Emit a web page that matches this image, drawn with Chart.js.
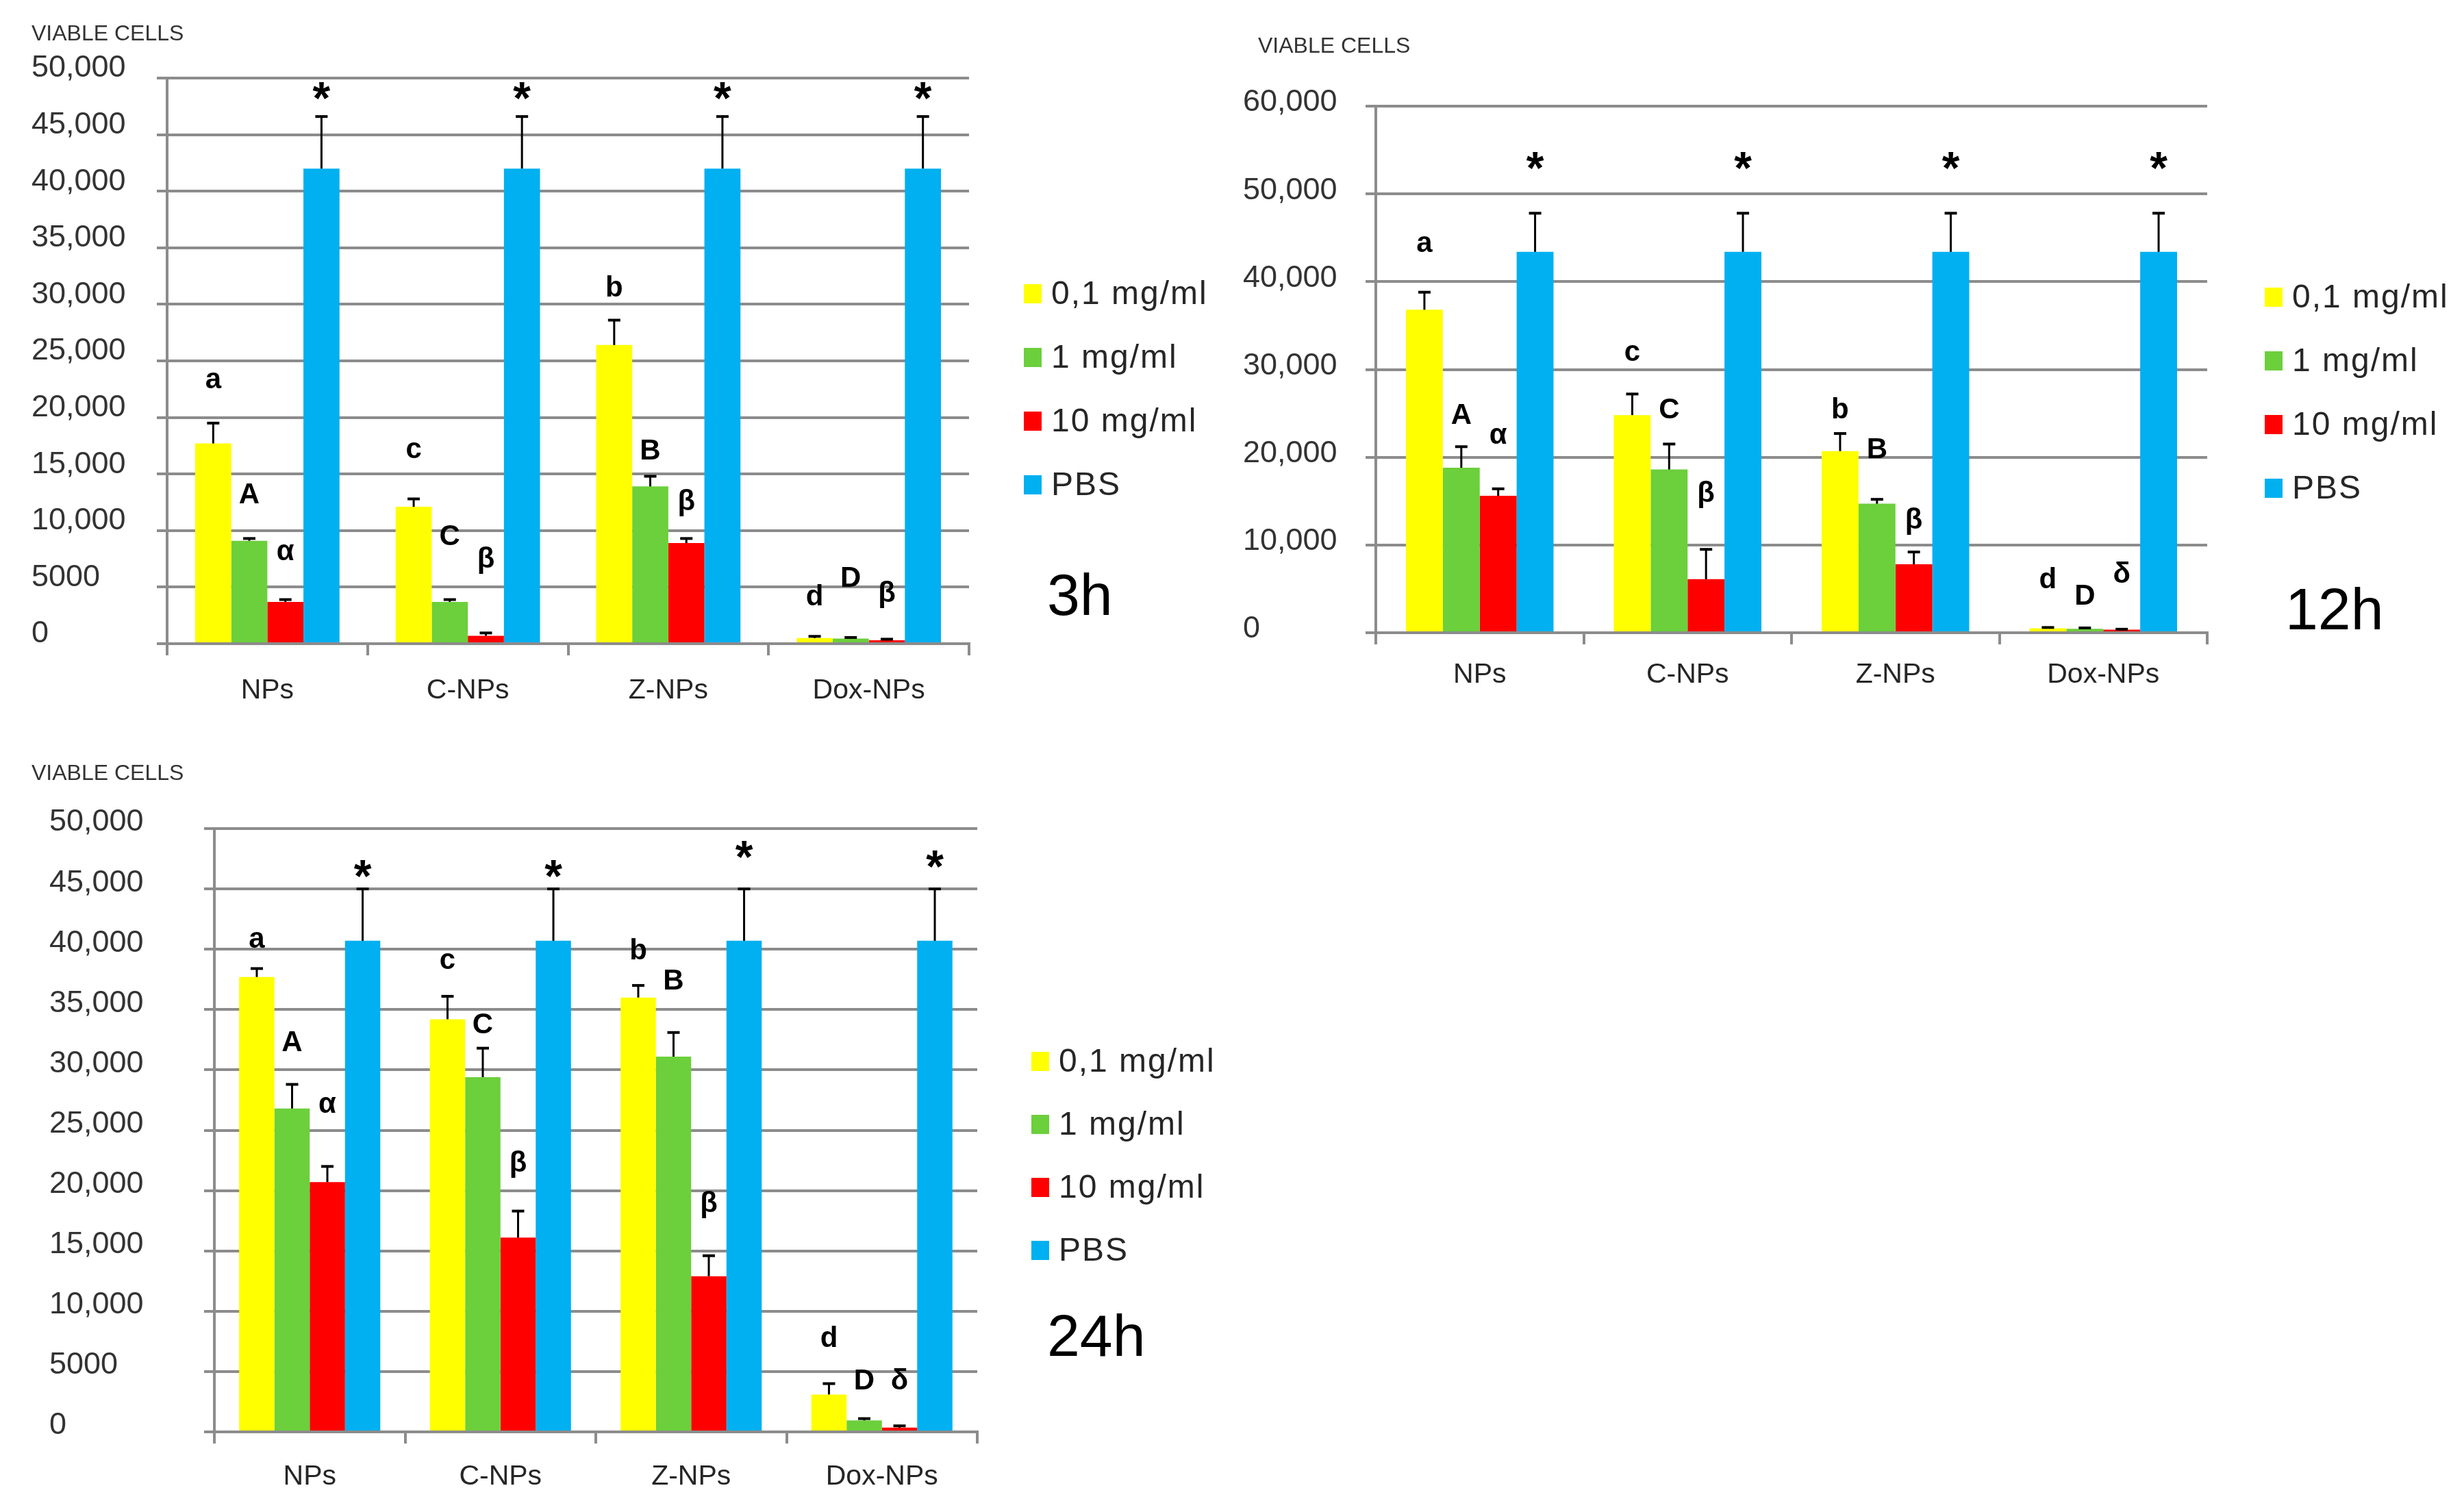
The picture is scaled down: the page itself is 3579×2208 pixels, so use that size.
<!DOCTYPE html>
<html>
<head>
<meta charset="utf-8">
<script src="https://cdn.jsdelivr.net/npm/chart.js@4.4.1/dist/chart.umd.min.js"></script>
<style>
  body { margin: 0; background: #fff; width: 3579px; height: 2208px; position: relative; overflow: hidden; }
  canvas { position: absolute; left: 0; top: 0; }
</style>
</head>
<body>
<canvas id="c3h" width="3579" height="2208"></canvas>
<canvas id="c12h" width="3579" height="2208"></canvas>
<canvas id="c24h" width="3579" height="2208"></canvas>
<script>
// categories and series
var categories = ['NPs', 'C-NPs', 'Z-NPs', 'Dox-NPs'];
var doseLabels = ['0,1 mg/ml', '1 mg/ml', '10 mg/ml', 'PBS'];
var doseColours = ['#ffff00', '#6ccf3c', '#ff0000', '#00b0f0'];

// 3h : viable cells, error (above bar), significance letter and the value where it sits
var v3h_01 = [17700, 12100, 26400, 500];
var v3h_1 = [9100, 3700, 13900, 450];
var v3h_10 = [3700, 700, 8900, 300];
var v3h_pbs = [42000, 42000, 42000, 42000];
var e3h_01 = [1800, 700, 2200, 150];
var e3h_1 = [200, 200, 900, 100];
var e3h_10 = [200, 250, 400, 100];
var e3h_pbs = [4600, 4600, 4600, 4600];
var m3h_01 = ['a', 'c', 'b', 'd'];
var m3h_1 = ['A', 'C', 'B', 'D'];
var m3h_10 = ['α', 'β', 'β', 'β'];
var m3h_pbs = ['*', '*', '*', '*'];
var my3h_01 = [23300, 17100, 31400, 4100];
var my3h_1 = [13100, 9400, 17000, 5700];
var my3h_10 = [8100, 7400, 12500, 4400];
var my3h_pbs = [48900, 48900, 48900, 48900];

// 12h
var v12h_01 = [36800, 24800, 20700, 500];
var v12h_1 = [18800, 18600, 14700, 450];
var v12h_10 = [15600, 6100, 7800, 350];
var v12h_pbs = [43400, 43400, 43400, 43400];
var e12h_01 = [2000, 2400, 2000, 100];
var e12h_1 = [2400, 2900, 500, 100];
var e12h_10 = [800, 3400, 1400, 50];
var e12h_pbs = [4400, 4400, 4400, 4400];
var m12h_01 = ['a', 'c', 'b', 'd'];
var m12h_1 = ['A', 'C', 'B', 'D'];
var m12h_10 = ['α', 'β', 'β', 'δ'];
var m12h_pbs = ['*', '*', '*', '*'];
var my12h_01 = [44300, 31900, 25300, 6000];
var my12h_1 = [24700, 25300, 20800, 4100];
var my12h_10 = [22400, 15800, 12800, 6600];
var my12h_pbs = [53800, 53800, 53800, 53800];

// 24h
var v24h_01 = [37700, 34200, 36000, 3100];
var v24h_1 = [26800, 29400, 31100, 950];
var v24h_10 = [20700, 16100, 12900, 350];
var v24h_pbs = [40700, 40700, 40700, 40700];
var e24h_01 = [700, 1900, 1000, 900];
var e24h_1 = [2000, 2400, 2000, 150];
var e24h_10 = [1300, 2200, 1700, 150];
var e24h_pbs = [4300, 4300, 4300, 4300];
var m24h_01 = ['a', 'c', 'b', 'd'];
var m24h_1 = ['A', 'C', 'B', 'D'];
var m24h_10 = ['α', 'β', 'β', 'δ'];
var m24h_pbs = ['*', '*', '*', '*'];
var my24h_01 = [40800, 39000, 39800, 7700];
var my24h_1 = [32200, 33700, 37300, 4200];
var my24h_10 = [27100, 22200, 18900, 4200];
var my24h_pbs = [46700, 46700, 48300, 47500];

var FONT = "'Liberation Sans', Arial, sans-serif";
var GRID = '#8c8c8c';

function fmt(v) {
  return v >= 10000 ? v.toLocaleString('en-US') : String(v);
}

function makeSets(vals, errs, marks, markY) {
  return vals.map(function (d, i) {
    return {
      label: doseLabels[i],
      data: d,
      err: errs[i],
      marks: marks[i],
      markY: markY[i],
      backgroundColor: doseColours[i],
      borderWidth: 0
    };
  });
}

// error bars, letters, legend, title and time tag
var extras = {
  id: 'extras',
  afterDatasetsDraw: function (chart, args, o) {
    var ctx = chart.ctx;
    var ys = chart.scales.y;
    ctx.save();
    chart.data.datasets.forEach(function (ds, i) {
      var meta = chart.getDatasetMeta(i);
      meta.data.forEach(function (bar, j) {
        var top = ys.getPixelForValue(ds.data[j] + ds.err[j]);
        ctx.strokeStyle = '#000';
        ctx.lineWidth = 3;
        ctx.beginPath();
        ctx.moveTo(bar.x, bar.y);
        ctx.lineTo(bar.x, top);
        ctx.stroke();
        ctx.lineWidth = 4;
        ctx.beginPath();
        ctx.moveTo(bar.x - 9, top);
        ctx.lineTo(bar.x + 9, top);
        ctx.stroke();

        var my = ys.getPixelForValue(ds.markY[j]);
        var m = ds.marks[j];
        ctx.fillStyle = '#000';
        ctx.textAlign = 'center';
        if (m === '*') {
          ctx.font = 'bold 66px ' + FONT;
          ctx.textBaseline = 'alphabetic';
          ctx.fillText(m, bar.x, my + 34);
        } else {
          ctx.font = 'bold 42px ' + FONT;
          ctx.textBaseline = 'middle';
          ctx.fillText(m, bar.x, my);
        }
      });
    });

    // legend
    ctx.textAlign = 'left';
    ctx.textBaseline = 'middle';
    ctx.font = '48px ' + FONT;
    ctx.letterSpacing = '2px';
    chart.data.datasets.forEach(function (ds, i) {
      var ry = o.legend.y + i * o.legend.step;
      ctx.fillStyle = ds.backgroundColor;
      ctx.fillRect(o.legend.x, ry - 14, 26, 28);
      ctx.fillStyle = '#262626';
      ctx.fillText(ds.label, o.legend.x + 40, ry + 2);
    });
    ctx.letterSpacing = '0px';

    // axis title
    ctx.font = '32px ' + FONT;
    ctx.fillStyle = '#333';
    ctx.fillText('VIABLE CELLS', o.title.x, o.title.y);

    // time tag
    ctx.font = '86px ' + FONT;
    ctx.fillStyle = '#000';
    ctx.fillText(o.tag.text, o.tag.x, o.tag.y);
    ctx.restore();
  }
};

function makeChart(id, sets, yMax, yStep, box, extra) {
  return new Chart(document.getElementById(id), {
    type: 'bar',
    data: { labels: categories, datasets: sets },
    options: {
      responsive: false,
      animation: false,
      devicePixelRatio: 1,
      datasets: { bar: { categoryPercentage: box.cat, barPercentage: 1 } },
      layout: {
        padding: { left: box.labelLeft, right: 3579 - box.right, top: box.top, bottom: 2208 - box.bottom - 120 }
      },
      plugins: { legend: { display: false }, tooltip: { enabled: false }, extras: extra },
      scales: {
        x: {
          grid: { drawOnChartArea: false, drawTicks: true, tickLength: 17, color: GRID, lineWidth: 4, offset: true },
          border: { color: GRID, width: 4 },
          ticks: { padding: box.xPad, color: '#262626', font: { family: FONT, size: 41 } },
          afterFit: function (s) { s.height = 120; }
        },
        y: {
          min: 0,
          max: yMax,
          grid: { color: GRID, lineWidth: 4, tickLength: 15 },
          border: { color: GRID, width: 4 },
          ticks: {
            stepSize: yStep,
            crossAlign: 'far',
            labelOffset: box.labelOffset,
            color: '#333',
            font: { family: FONT, size: 45 },
            callback: function (v) { return fmt(v); }
          },
          afterFit: function (s) { s.width = box.left - box.labelLeft; }
        }
      }
    },
    plugins: [extras]
  });
}

makeChart('c3h',
  makeSets([v3h_01, v3h_1, v3h_10, v3h_pbs], [e3h_01, e3h_1, e3h_10, e3h_pbs],
           [m3h_01, m3h_1, m3h_10, m3h_pbs], [my3h_01, my3h_1, my3h_10, my3h_pbs]),
  50000, 5000,
  { labelLeft: 46, left: 244, right: 1415, top: 114, bottom: 940, cat: 0.72, xPad: 27, labelOffset: -14 },
  { title: { x: 46, y: 50 }, tag: { text: '3h', x: 1529, y: 874 }, legend: { x: 1495, y: 429, step: 93 } });

makeChart('c12h',
  makeSets([v12h_01, v12h_1, v12h_10, v12h_pbs], [e12h_01, e12h_1, e12h_10, e12h_pbs],
           [m12h_01, m12h_1, m12h_10, m12h_pbs], [my12h_01, my12h_1, my12h_10, my12h_pbs]),
  60000, 10000,
  { labelLeft: 1815, left: 2009, right: 3223, top: 155, bottom: 924, cat: 0.71, xPad: 20, labelOffset: -5 },
  { title: { x: 1837, y: 68 }, tag: { text: '12h', x: 3337, y: 895 }, legend: { x: 3307, y: 434, step: 93 } });

makeChart('c24h',
  makeSets([v24h_01, v24h_1, v24h_10, v24h_pbs], [e24h_01, e24h_1, e24h_10, e24h_pbs],
           [m24h_01, m24h_1, m24h_10, m24h_pbs], [my24h_01, my24h_1, my24h_10, my24h_pbs]),
  50000, 5000,
  { labelLeft: 72, left: 313, right: 1427, top: 1210, bottom: 2091, cat: 0.74, xPad: 24, labelOffset: -9 },
  { title: { x: 46, y: 1130 }, tag: { text: '24h', x: 1529, y: 1956 }, legend: { x: 1506, y: 1550, step: 92 } });
</script>
</body>
</html>
